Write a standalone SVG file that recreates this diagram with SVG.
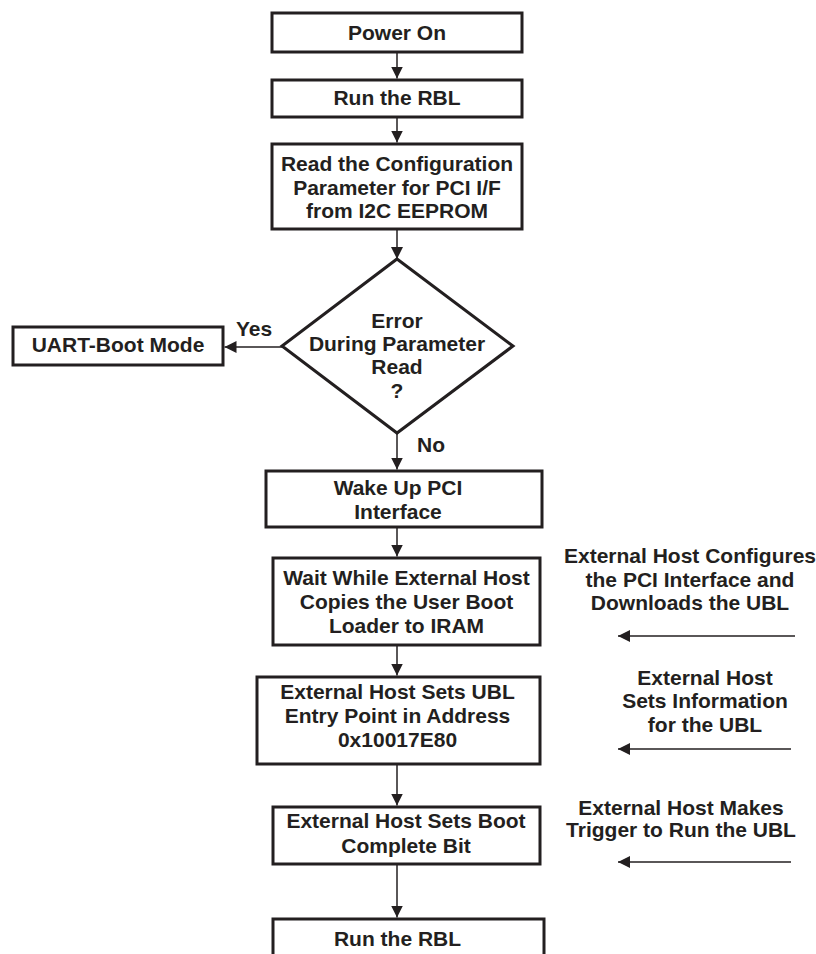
<svg xmlns="http://www.w3.org/2000/svg" width="816" height="954" viewBox="0 0 816 954">
  <style>
    .box { fill: #ffffff; stroke: #231f20; stroke-width: 3; }
    .lbl { font-family: "Liberation Sans", Arial, sans-serif; font-weight: bold; font-size: 21px; fill: #231f20; text-anchor: middle; }
    .side { font-family: "Liberation Sans", Arial, sans-serif; font-weight: bold; font-size: 21px; fill: #231f20; }
    .wire { fill: none; stroke: #231f20; stroke-width: 1.5; }
  </style>
  <defs>
    <marker id="arrow" viewBox="0 0 12 12" refX="12" refY="6" markerWidth="12" markerHeight="12" markerUnits="userSpaceOnUse" orient="auto">
      <path d="M0,0 L12,6 L0,12 Z" fill="#231f20"/>
    </marker>
  </defs>
  <rect width="816" height="954" fill="#ffffff"/>

  <!-- connectors -->
  <g id="connectors">
    <line class="wire" x1="397" y1="52" x2="397" y2="78.5" marker-end="url(#arrow)"/>
    <line class="wire" x1="397" y1="117" x2="397" y2="142.5" marker-end="url(#arrow)"/>
    <line class="wire" x1="397" y1="229" x2="397" y2="259" marker-end="url(#arrow)"/>
    <line class="wire" x1="282" y1="347" x2="224.5" y2="347" marker-end="url(#arrow)"/>
    <line class="wire" x1="397" y1="433" x2="397" y2="469.5" marker-end="url(#arrow)"/>
    <line class="wire" x1="397" y1="527" x2="397" y2="556.5" marker-end="url(#arrow)"/>
    <line class="wire" x1="397" y1="645" x2="397" y2="675.5" marker-end="url(#arrow)"/>
    <line class="wire" x1="397" y1="760" x2="397" y2="805.5" marker-end="url(#arrow)"/>
    <line class="wire" x1="397" y1="864" x2="397" y2="917.5" marker-end="url(#arrow)"/>
    <!-- host-side actions -->
    <line class="wire" x1="795" y1="636" x2="618" y2="636" marker-end="url(#arrow)"/>
    <line class="wire" x1="791" y1="749" x2="618" y2="749" marker-end="url(#arrow)"/>
    <line class="wire" x1="791" y1="862" x2="618" y2="862" marker-end="url(#arrow)"/>
    <text class="side" x="236" y="336">Yes</text>
    <text class="side" x="417" y="452">No</text>
  </g>

  <g id="power-on">
    <rect class="box" x="272" y="13" width="250" height="39"/>
    <text class="lbl" x="397" y="40">Power On</text>
  </g>

  <g id="run-rbl">
    <rect class="box" x="272" y="80" width="250" height="37"/>
    <text class="lbl" x="397" y="105">Run the RBL</text>
  </g>

  <g id="read-config">
    <rect class="box" x="272" y="144" width="250" height="85"/>
    <text class="lbl" x="397" y="171">Read the Configuration</text>
    <text class="lbl" x="397" y="195">Parameter for PCI I/F</text>
    <text class="lbl" x="397" y="218">from I2C EEPROM</text>
  </g>

  <g id="error-check">
    <polygon class="box" points="397,259 513,346 397,433 282,346"/>
    <text class="lbl" x="397" y="328">Error</text>
    <text class="lbl" x="397" y="351">During Parameter</text>
    <text class="lbl" x="397" y="374">Read</text>
    <text class="lbl" x="397" y="398">?</text>
  </g>

  <g id="uart-boot">
    <rect class="box" x="13" y="327" width="210" height="38"/>
    <text class="lbl" x="118" y="352">UART-Boot Mode</text>
  </g>

  <g id="wake-pci">
    <rect class="box" x="266" y="471" width="276" height="56"/>
    <text class="lbl" x="398" y="495">Wake Up PCI</text>
    <text class="lbl" x="398" y="519">Interface</text>
  </g>

  <g id="wait-host">
    <rect class="box" x="273" y="558" width="267" height="87"/>
    <text class="lbl" x="406.5" y="585">Wait While External Host</text>
    <text class="lbl" x="406.5" y="609">Copies the User Boot</text>
    <text class="lbl" x="406.5" y="633">Loader to IRAM</text>
  </g>

  <g id="set-entry">
    <rect class="box" x="257" y="677" width="283" height="87"/>
    <text class="lbl" x="397.5" y="699">External Host Sets UBL</text>
    <text class="lbl" x="397.5" y="723">Entry Point in Address</text>
    <text class="lbl" x="397.5" y="747">0x10017E80</text>
  </g>

  <g id="boot-complete">
    <rect class="box" x="273" y="807" width="267" height="57"/>
    <text class="lbl" x="406" y="828">External Host Sets Boot</text>
    <text class="lbl" x="406" y="853">Complete Bit</text>
  </g>

  <g id="run-rbl-2">
    <rect class="box" x="273" y="919" width="271" height="60"/>
    <text class="lbl" x="397.5" y="946">Run the RBL</text>
  </g>

  <g id="host-notes">
    <text class="lbl" x="690" y="563">External Host Configures</text>
    <text class="lbl" x="690" y="587">the PCI Interface and</text>
    <text class="lbl" x="690" y="610">Downloads the UBL</text>
    <text class="lbl" x="705" y="685">External Host</text>
    <text class="lbl" x="705" y="708">Sets Information</text>
    <text class="lbl" x="705" y="732">for the UBL</text>
    <text class="lbl" x="681" y="815">External Host Makes</text>
    <text class="lbl" x="681" y="837">Trigger to Run the UBL</text>
  </g>
</svg>
